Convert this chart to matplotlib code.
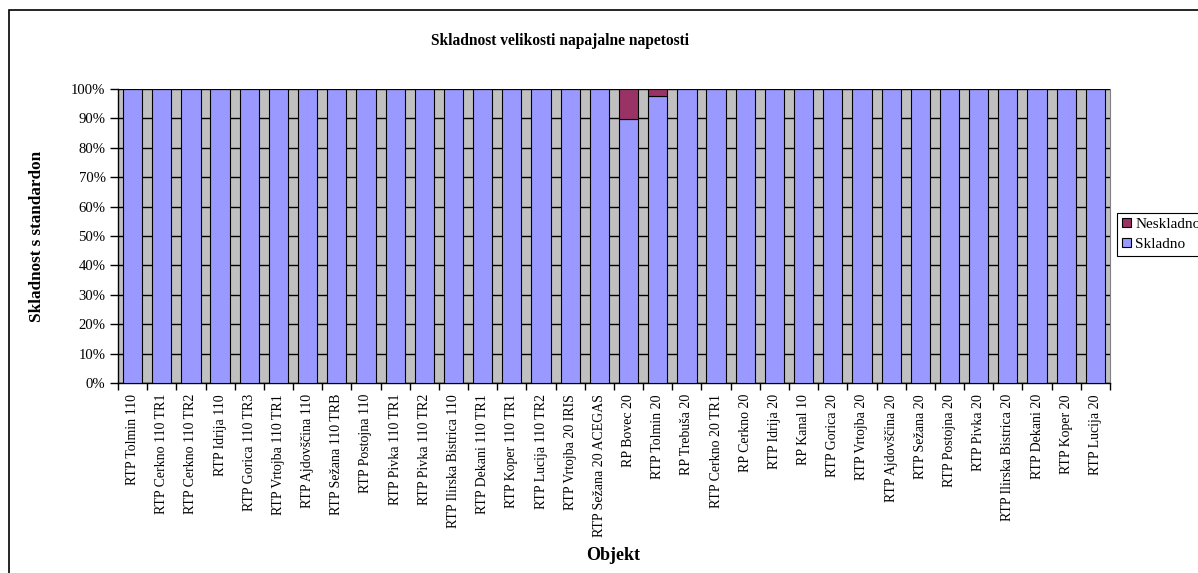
import matplotlib
matplotlib.use('Agg')
import matplotlib.pyplot as plt
from matplotlib.patches import Rectangle
from matplotlib.ticker import FuncFormatter, MultipleLocator
import numpy as np

plt.rcParams['font.family'] = ['Liberation Serif', 'DejaVu Serif']

objekti = [
    'RTP Tolmin 110', 'RTP Cerkno 110 TR1', 'RTP Cerkno 110 TR2', 'RTP Idrija 110',
    'RTP Gorica 110 TR3', 'RTP Vrtojba 110 TR1', 'RTP Ajdovščina 110', 'RTP Sežana 110 TRB',
    'RTP Postojna 110', 'RTP Pivka 110 TR1', 'RTP Pivka 110 TR2', 'RTP Ilirska Bistrica 110',
    'RTP Dekani 110 TR1', 'RTP Koper 110 TR1', 'RTP Lucija 110 TR2', 'RTP Vrtojba 20 IRIS',
    'RTP Sežana 20 ACEGAS', 'RP Bovec 20', 'RTP Tolmin 20', 'RP Trebuša 20',
    'RTP Cerkno 20 TR1', 'RP Cerkno 20', 'RTP Idrija 20', 'RP Kanal 10',
    'RTP Gorica 20', 'RTP Vrtojba 20', 'RTP Ajdovščina 20', 'RTP Sežana 20',
    'RTP Postojna 20', 'RTP Pivka 20', 'RTP Ilirska Bistrica 20', 'RTP Dekani 20',
    'RTP Koper 20', 'RTP Lucija 20',
]
# delež skladnih meritev (%), ostalo do 100 % je neskladno
skladno = [100.0] * 17 + [89.7, 97.7] + [100.0] * 15
neskladno = [100.0 - s for s in skladno]

fig = plt.figure(figsize=(11.98, 5.73), dpi=100)
ax = fig.add_axes([0.0985, 0.3316, 0.8280, 0.5131])

x = np.arange(len(objekti))
ax.bar(x, skladno, width=0.66, color='#9999FF', edgecolor='black', linewidth=0.8,
       label='Skladno', zorder=3)
ax.bar(x, neskladno, width=0.66, bottom=skladno, color='#993366', edgecolor='black',
       linewidth=0.8, label='Neskladno', zorder=3)

ax.set_facecolor('#C0C0C0')
ax.set_xlim(-0.5, len(objekti) - 0.5)
ax.set_ylim(0, 100)
ax.yaxis.set_major_locator(MultipleLocator(10))
ax.yaxis.set_major_formatter(FuncFormatter(lambda v, p: f'{v:.0f}%'))
ax.grid(True, axis='y', color='black', linewidth=1.0, zorder=1)
ax.set_axisbelow(True)

# oznake kategorij na sredini, kljukice med stolpci
ax.set_xticks(x)
ax.set_xticklabels(objekti, rotation=90, fontsize=10)
ax.set_xticks(np.arange(-0.5, len(objekti)), minor=True)
ax.tick_params(axis='x', which='major', length=0, pad=8)
ax.tick_params(axis='x', which='minor', length=5, width=1, direction='out')
ax.tick_params(axis='y', labelsize=10.6, length=6, width=1, direction='out', pad=3)

ax.spines['top'].set_visible(False)
ax.spines['right'].set_color('#808080')
ax.spines['left'].set_linewidth(1)
ax.spines['bottom'].set_linewidth(1)

fig.text(0.4674, 0.928, 'Skladnost velikosti napajalne napetosti', ha='center',
         va='center', fontsize=11.2, fontweight='bold')
fig.text(0.031, 0.588, 'Skladnost s standardon', rotation=90, ha='center',
         va='center', fontsize=12.3, fontweight='bold')
fig.text(0.5117, 0.031, 'Objekt', ha='center', va='center', fontsize=13,
         fontweight='bold')

handles, labels = ax.get_legend_handles_labels()
leg = fig.legend(handles[::-1], labels[::-1], loc='upper left',
                 bbox_to_anchor=(1117 / 1198, 1 - 213 / 573), fontsize=11,
                 frameon=True, fancybox=False, edgecolor='black', framealpha=1,
                 handlelength=0.6, handleheight=0.6, handletextpad=0.3,
                 borderpad=0.3, labelspacing=0.45, borderaxespad=0)
leg.get_frame().set_linewidth(0.8)

# okvir grafikona
fig.patches.append(Rectangle((9 / 1198, -0.1), 1.2, 1 - 10 / 573 + 0.1,
                             transform=fig.transFigure, fill=False,
                             edgecolor='black', linewidth=1.2))

fig.savefig('out.png', dpi=100)
